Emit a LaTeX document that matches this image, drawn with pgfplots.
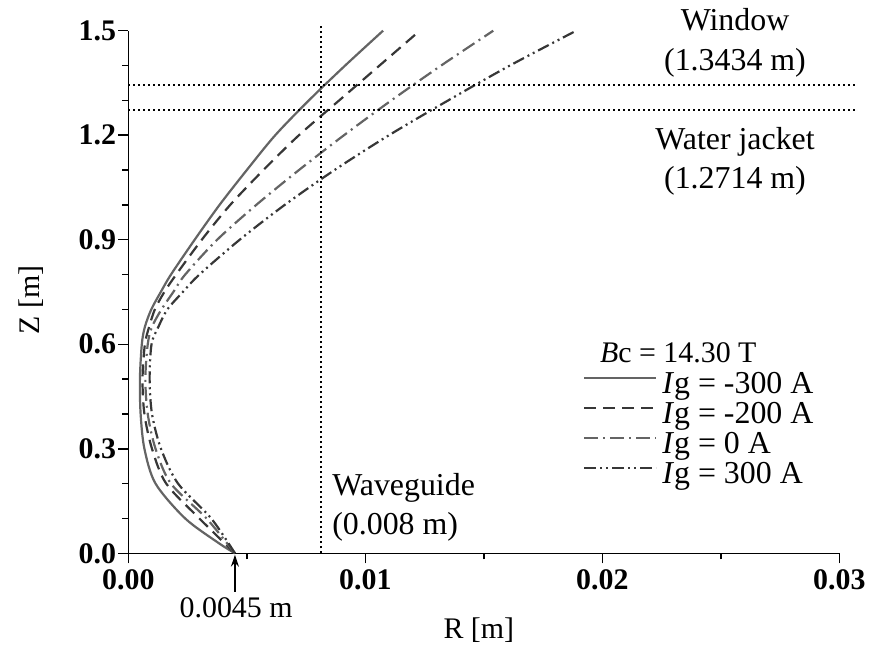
\documentclass[border=0pt]{standalone}
\usepackage{fontspec}
\setmainfont{Liberation Serif}
\usepackage{pgfplots}
\pgfplotsset{compat=1.18}
\usetikzlibrary{arrows.meta}
\definecolor{cgrayA}{RGB}{100,100,100}
\definecolor{cgrayB}{RGB}{55,55,55}
\newcommand{\bigfont}{\fontsize{32}{40}\selectfont}
\newcommand{\midfont}{\fontsize{30}{38}\selectfont}
\begin{document}
\begin{tikzpicture}
\begin{axis}[
  scale only axis, width=711bp, height=522.6bp,
  xmin=0, xmax=0.03, ymin=0, ymax=1.5,
  axis x line*=bottom, axis y line*=left,
  axis line style={line width=1.5bp,-},
  xtick={0,0.01,0.02,0.03}, ytick={0,0.3,0.6,0.9,1.2,1.5},
  minor x tick num=1, minor y tick num=2,
  tick align=outside, major tick length=10bp, minor tick length=6bp,
  tick style={line width=1.5bp, black},
  scaled x ticks=false,
  xticklabel style={/pgf/number format/fixed, /pgf/number format/fixed zerofill, /pgf/number format/precision=2, yshift=-4bp},
  yticklabel style={/pgf/number format/fixed, /pgf/number format/fixed zerofill, /pgf/number format/precision=1},
  ticklabel style={font=\midfont\bfseries, inner sep=2bp},
  /pgf/number format/assume math mode=true,
  xlabel={R [m]}, ylabel={Z [m]},
  label style={font=\midfont},
  xlabel style={at={(axis description cs:0.5,0)}, anchor=center, yshift=-77bp, xshift=-5bp},
  ylabel style={at={(axis description cs:0,0.5)}, anchor=center, yshift=97bp, xshift=-8bp},
  clip=false,
  legend style={draw=none, fill=none, at={(axis cs:0.01918,0.5175)}, anchor=north west, inner sep=0pt, row sep=3bp, column sep=5bp, nodes={inner sep=0pt, text height=20bp, text depth=7bp, font=\bigfont}},
  legend cell align=left,
  legend image code/.code={\draw[#1] (0bp,9bp) -- (72bp,9bp);},
]
\addplot[smooth, cgrayA, line width=2.2bp] coordinates {
(0.0045,0) (0.0038,0.03) (0.0024,0.1) (0.00115,0.2) (0.00068,0.3) (0.00052,0.4) (0.00049,0.5) (0.00057,0.6) (0.0007,0.65) (0.00097,0.7) (0.00137,0.75) (0.0018,0.8) (0.0028,0.9) (0.00385,1.0) (0.0050,1.1) (0.0062,1.2) (0.00762,1.3) (0.00915,1.4) (0.01075,1.5)};
\addlegendentry{\textit{I}g = -300 A}
\addplot[smooth, cgrayB, line width=2.2bp, dash pattern=on 12bp off 7bp] coordinates {
(0.0045,0) (0.0030,0.1) (0.0016,0.2) (0.0010,0.3) (0.00068,0.4) (0.0006,0.5) (0.0007,0.6) (0.00088,0.65) (0.00112,0.7) (0.00152,0.75) (0.00202,0.8) (0.0031,0.9) (0.0043,1.0) (0.0057,1.1) (0.0072,1.2) (0.0089,1.3) (0.0106,1.4) (0.0123,1.5)};
\addlegendentry{\textit{I}g = -200 A}
\addplot[smooth, cgrayA, line width=2.2bp, dash pattern=on 14bp off 5bp on 2bp off 5bp] coordinates {
(0.0045,0) (0.0033,0.1) (0.0018,0.2) (0.00115,0.3) (0.00082,0.4) (0.00072,0.5) (0.00082,0.6) (0.001,0.65) (0.0014,0.7) (0.0019,0.75) (0.0024,0.8) (0.00375,0.9) (0.0054,1.0) (0.0072,1.1) (0.0091,1.2) (0.0111,1.3) (0.0132,1.4) (0.0154,1.5)};
\addlegendentry{\textit{I}g = 0 A}
\addplot[smooth, cgrayB, line width=2.2bp, dash pattern=on 12bp off 4bp on 2bp off 4bp on 2bp off 4bp] coordinates {
(0.0045,0) (0.0035,0.1) (0.0021,0.2) (0.00138,0.3) (0.001,0.4) (0.0009,0.5) (0.00098,0.6) (0.00127,0.65) (0.00165,0.7) (0.0023,0.75) (0.003,0.8) (0.0047,0.9) (0.0066,1.0) (0.0087,1.1) (0.011,1.2) (0.0135,1.3) (0.0161,1.4) (0.0189,1.5)};
\addlegendentry{\textit{I}g = 300 A}
% reference lines
\addplot[black, line width=2bp, dash pattern=on 2bp off 3bp, forget plot] coordinates {(0.00813,0) (0.00813,1.52)};
\addplot[black, line width=2bp, dash pattern=on 2bp off 3bp, forget plot] coordinates {(0,1.3434) (0.03075,1.3434)};
\addplot[black, line width=2bp, dash pattern=on 2bp off 3bp, forget plot] coordinates {(0,1.2714) (0.03075,1.2714)};
% annotations
\node[font=\bigfont, align=center, inner sep=0pt] at (axis cs:0.0256,1.466) {Window\\(1.3434 m)};
\node[font=\bigfont, align=center, inner sep=0pt] at (axis cs:0.0256,1.125) {Water jacket\\(1.2714 m)};
\node[font=\bigfont, align=left, anchor=west, inner sep=0pt] at (axis cs:0.0086,0.132) {Waveguide\\(0.008 m)};
\node[font=\midfont, anchor=west, inner sep=0pt] at (axis cs:0.0199,0.575) {\textit{B}c = 14.30 T};
\node[font=\midfont, inner sep=0pt] at (axis cs:0.00455,-0.157) {0.0045 m};
\draw[line width=1.5bp, -{Stealth[length=12bp,width=8bp]}] (axis cs:0.0045,-0.11) -- (axis cs:0.0045,-0.004);
\end{axis}
\pgfresetboundingbox
\useasboundingbox (-128.3bp,-100.7bp) rectangle (744.7bp,553.3bp);
\end{tikzpicture}
\end{document}
